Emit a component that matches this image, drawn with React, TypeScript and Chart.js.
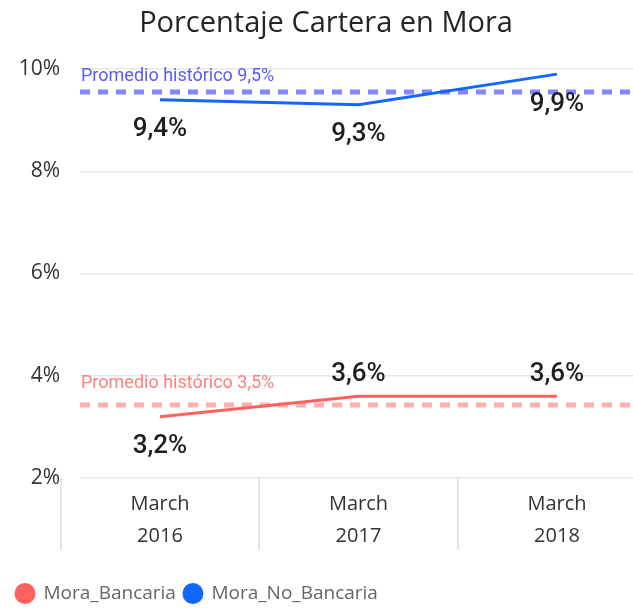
import React, { useEffect, useRef } from "react";
import { Chart, registerables } from "chart.js";

Chart.register(...registerables);

const chartTitle = "Porcentaje Cartera en Mora";
const categories: string[][] = [
  ["March", "2016"],
  ["March", "2017"],
  ["March", "2018"],
];
const seriesNames = ["Mora_Bancaria", "Mora_No_Bancaria"];
const moraBancaria = [3.2, 3.6, 3.6];
const moraNoBancaria = [9.4, 9.3, 9.9];
const promedioBancaria = 3.43;
const promedioNoBancaria = 9.55;
const promedioBancariaLabel = "Promedio histórico 3,5%";
const promedioNoBancariaLabel = "Promedio histórico 9,5%";
const yMin = 2;
const yMax = 10;
const yStep = 2;

const RED = "#FD625E";
const BLUE = "#1267FF";
const LABEL_FONT = "'Roboto', 'DejaVu Sans', sans-serif";
const UI_FONT = "'Open Sans', 'Noto Sans', sans-serif";

const fmt = (v: number) => v.toFixed(1).replace(".", ",") + "%";

export default function App() {
  const ref = useRef<HTMLCanvasElement | null>(null);

  useEffect(() => {
    document.body.style.margin = "0";
    const canvas = ref.current;
    if (!canvas) return;

    const decorations = {
      id: "decorations",
      beforeDatasetsDraw(chart: any) {
        const { ctx, chartArea, scales } = chart;
        const x = scales.x;
        const y = scales.y;
        ctx.save();
        // category separators in the x-axis area
        ctx.strokeStyle = "#E4E4E4";
        ctx.lineWidth = 2;
        for (let i = 0; i <= categories.length; i++) {
          const px = Math.round(x.getPixelForValue(i - 0.5));
          ctx.beginPath();
          ctx.moveTo(px, chartArea.bottom);
          ctx.lineTo(px, chartArea.bottom + 72);
          ctx.stroke();
        }
        // average lines
        const avgs = [
          { v: promedioNoBancaria, color: "rgba(110,110,250,0.85)", text: promedioNoBancariaLabel, tcolor: "#5A5AFA", dy: -16 },
          { v: promedioBancaria, color: "rgba(253,150,150,0.75)", text: promedioBancariaLabel, tcolor: "#FD8080", dy: -21 },
        ];
        for (const a of avgs) {
          const py = y.getPixelForValue(a.v);
          ctx.strokeStyle = a.color;
          ctx.lineWidth = 5;
          ctx.setLineDash([10, 8]);
          ctx.beginPath();
          ctx.moveTo(chartArea.left, py);
          ctx.lineTo(chartArea.right, py);
          ctx.stroke();
          ctx.setLineDash([]);
          ctx.fillStyle = a.tcolor;
          ctx.font = `18px ${LABEL_FONT}`;
          ctx.textAlign = "left";
          ctx.textBaseline = "middle";
          ctx.fillText(a.text, chartArea.left + 1, py + a.dy);
        }
        ctx.restore();
      },
      afterDatasetsDraw(chart: any) {
        const { ctx } = chart;
        ctx.save();
        ctx.font = `500 26px ${LABEL_FONT}`;
        ctx.fillStyle = "#1E1E1E";
        ctx.textAlign = "center";
        ctx.textBaseline = "middle";
        chart.data.datasets.forEach((ds: any, di: number) => {
          const meta = chart.getDatasetMeta(di);
          meta.data.forEach((pt: any, i: number) => {
            const place = ds.labelPlacement[i];
            const dy = place === "above" ? -22 : 30;
            ctx.fillText(fmt(ds.data[i].y), pt.x, pt.y + dy);
          });
        });
        ctx.restore();
      },
      afterDraw(chart: any) {
        const { ctx } = chart;
        ctx.save();
        ctx.font = `29px ${UI_FONT}`;
        ctx.fillStyle = "#252423";
        ctx.textAlign = "center";
        ctx.textBaseline = "middle";
        ctx.fillText(chartTitle, 326, 24);
        ctx.restore();
      },
    };

    const chart = new Chart(canvas, {
      type: "line",
      data: {
        datasets: [
          {
            label: seriesNames[0],
            data: moraBancaria.map((v, i) => ({ x: i, y: v })),
            borderColor: RED,
            backgroundColor: RED,
            borderWidth: 3,
            pointRadius: 0,
            tension: 0,
            labelPlacement: ["below", "above", "above"],
          } as any,
          {
            label: seriesNames[1],
            data: moraNoBancaria.map((v, i) => ({ x: i, y: v })),
            borderColor: BLUE,
            backgroundColor: BLUE,
            borderWidth: 3,
            pointRadius: 0,
            tension: 0,
            labelPlacement: ["below", "below", "below"],
          } as any,
        ],
      },
      options: {
        animation: false,
        responsive: false,
        layout: { padding: { top: 69, right: 0, left: 8, bottom: 0 } },
        plugins: {
          title: { display: false },
          tooltip: { enabled: false },
          legend: {
            display: true,
            position: "bottom",
            align: "start",
            labels: {
              usePointStyle: true,
              pointStyle: "circle",
              pointStyleWidth: 18,
              boxHeight: 12.7,
              padding: 8,
              color: "#666666",
              font: { family: UI_FONT, size: 19 },
            },
          },
        },
        scales: {
          x: {
            type: "linear",
            min: -0.403,
            max: 2.383,
            afterBuildTicks: (scale: any) => {
              scale.ticks = categories.map((_, i) => ({ value: i }));
            },
            afterFit: (scale: any) => {
              scale.height = 98;
            },
            grid: { display: false },
            border: { display: false },
            ticks: {
              autoSkip: false,
              maxRotation: 0,
              padding: 2,
              color: "#333333",
              font: { family: UI_FONT, size: 20, lineHeight: 1.6 },
              callback: (v: any) => categories[Math.round(Number(v))] ?? "",
            },
          },
          y: {
            min: yMin,
            max: yMax,
            afterFit: (scale: any) => {
              scale.width = 72;
            },
            grid: { color: "#E8E8E8", lineWidth: 1.5, drawTicks: false },
            border: { display: false },
            ticks: {
              stepSize: yStep,
              padding: 20,
              color: "#333333",
              font: { family: UI_FONT, size: 21 },
              callback: (v: any) => v + "%",
            },
          },
        },
      },
      plugins: [decorations],
    } as any);

    return () => chart.destroy();
  }, []);

  return (
    <div style={{ width: 633, height: 613 }}>
      <canvas ref={ref} width={633} height={613} />
    </div>
  );
}
